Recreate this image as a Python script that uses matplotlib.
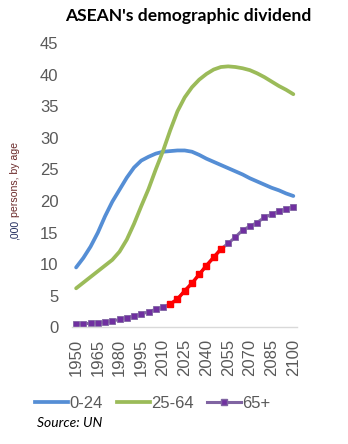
import matplotlib.pyplot as plt
from matplotlib.lines import Line2D

years = list(range(1950, 2101, 5))
tick_years = list(range(1950, 2101, 15))

age_0_24 = [9.5, 11.0, 12.8, 15.0, 17.6, 19.9, 21.8, 23.7, 25.3, 26.4, 27.0,
            27.5, 27.8, 27.9, 28.0, 28.0, 27.8, 27.3, 26.7, 26.2, 25.7, 25.2,
            24.7, 24.2, 23.6, 23.1, 22.6, 22.1, 21.7, 21.2, 20.8]
age_25_64 = [6.2, 7.1, 8.0, 8.9, 9.8, 10.7, 12.0, 13.9, 16.4, 19.2, 21.9,
             25.0, 27.9, 31.2, 34.2, 36.4, 38.0, 39.2, 40.1, 40.8, 41.2, 41.3,
             41.2, 41.0, 40.7, 40.2, 39.6, 38.9, 38.2, 37.6, 36.9]
age_65_plus = [0.55, 0.6, 0.66, 0.72, 0.87, 1.0, 1.3, 1.55, 1.8, 2.1, 2.5,
               2.85, 3.2, 3.7, 4.5, 5.8, 7.0, 8.4, 9.8, 11.1, 12.4, 13.3,
               14.3, 15.4, 16.0, 16.6, 17.4, 17.9, 18.4, 18.7, 19.1]

# highlighted stretch of the 65+ series
hl_start, hl_end = 2015, 2050

BLUE = '#558ed5'
GREEN = '#9bbb59'
PURPLE_LINE = '#8064a2'
PURPLE_MARK = '#7030a0'
GREY = '#595959'

plt.rcParams['font.family'] = ['Liberation Sans', 'DejaVu Sans']

fig = plt.figure(figsize=(3.48, 4.44), dpi=100)
ax = fig.add_axes([0.2083, 0.2624, 0.645, 0.6408])

ax.plot(years, age_0_24, color=BLUE, lw=2.7, solid_capstyle='round')
ax.plot(years, age_25_64, color=GREEN, lw=2.7, solid_capstyle='round')
ax.plot(years, age_65_plus, color=PURPLE_LINE, lw=2.2, marker='s', ms=4.8,
        mfc=PURPLE_MARK, mec=PURPLE_LINE, mew=0.6)

hl = [(y, v) for y, v in zip(years, age_65_plus) if hl_start <= y <= hl_end]
ax.plot([p[0] for p in hl], [p[1] for p in hl], color='red', lw=2.4,
        marker='s', ms=4.9, mfc='red', mec='red', zorder=4)

ax.set_xlim(1947.5, 2102.5)
ax.set_ylim(0, 45)
ax.set_yticks(range(0, 46, 5))
ax.set_xticks(tick_years)
ax.set_xticklabels([str(y) for y in tick_years], rotation=90)
ax.tick_params(axis='both', length=0, labelsize=12, colors=GREY)
ax.tick_params(axis='y', pad=10)
ax.tick_params(axis='x', pad=8)
for side in ['top', 'right', 'left']:
    ax.spines[side].set_visible(False)
ax.spines['bottom'].set_color('#d9d9d9')
ax.spines['bottom'].set_linewidth(1.0)

fig.text(0.54, 0.963, "ASEAN's demographic dividend", ha='center', va='center',
         fontsize=12.6, fontweight='bold', family=['Lato', 'DejaVu Sans'])

# y-axis caption in two colours, second part placed after the first
renderer = fig.canvas.get_renderer()
cap1 = fig.text(0.043, 0.459, ',000', rotation=90, ha='center', va='bottom',
                fontsize=7.6, color='#1f2a5c')
bb = cap1.get_window_extent(renderer).transformed(fig.transFigure.inverted())
fig.text(0.043, bb.y1 + 0.007, 'persons, by age', rotation=90, ha='center',
         va='bottom', fontsize=7.6, color='#6b2a2a')

handles = [
    Line2D([], [], color=BLUE, lw=2.7),
    Line2D([], [], color=GREEN, lw=2.7),
    Line2D([], [], color=PURPLE_LINE, lw=2.2, marker='s', ms=4.8,
           mfc=PURPLE_MARK, mec=PURPLE_LINE),
]
leg = fig.legend(handles, ['0-24', '25-64', '65+'], loc='center left',
                 bbox_to_anchor=(0.1, 0.092), ncol=3, frameon=False,
                 fontsize=12, handlelength=2.0, handletextpad=0.1,
                 columnspacing=0.8, borderpad=0, borderaxespad=0)
for t in leg.get_texts():
    t.set_color(GREY)

fig.text(0.105, 0.048, 'Source: UN', ha='left', va='center', fontsize=10,
         style='italic', family=['Lato', 'DejaVu Sans'])

fig.savefig('out.png', dpi=100)
